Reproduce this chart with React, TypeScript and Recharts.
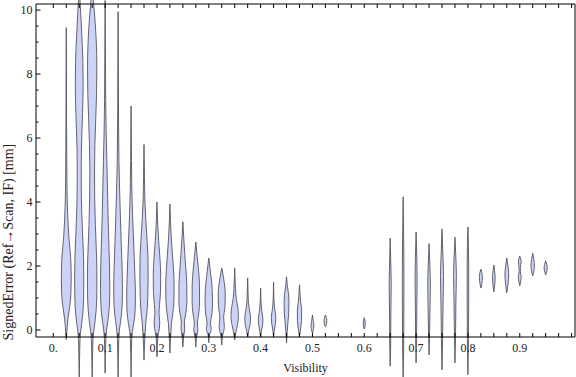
import { ComposedChart, Area, XAxis, YAxis } from 'recharts';

// centres of the violins on the Visibility axis
const VIOLIN_X = [
  0.025, 0.05, 0.075, 0.1, 0.125, 0.15, 0.175, 0.2,
  0.225, 0.25, 0.275, 0.3, 0.325, 0.35, 0.375, 0.4, 0.425, 0.45, 0.475, 0.5, 0.525, 0.6,
  0.65, 0.675, 0.7, 0.725, 0.75, 0.775, 0.8, 0.825, 0.85, 0.875, 0.9, 0.925, 0.95,
];

// density outline of each violin: [signed error in mm, relative half width]
const PROFILES_LOW: [number, number][][] = [
  [[-0.3, 0], [-0.1, 0.6], [0.1, 1.0], [0.35, 1.8], [0.7, 3.5], [1.1, 4.9], [1.6, 5.3], [2.1, 5.0], [2.5, 4.0], [2.9, 2.8], [3.4, 1.8], [4.0, 1.1], [5.0, 0.6], [6.5, 0.35], [9.45, 0]],
  [[-1.47, 0], [-1.0, 0.3], [-0.5, 0.6], [-0.1, 1.3], [0.2, 2.6], [0.5, 3.8], [1.0, 4.7], [1.6, 4.9], [2.3, 4.6], [3.0, 3.6], [3.7, 2.7], [4.5, 2.2], [5.3, 2.2], [6.0, 2.7], [6.8, 3.6], [7.6, 4.2], [8.4, 3.9], [9.2, 2.8], [9.9, 1.6], [10.4, 0.6], [10.8, 0]],
  [[-1.47, 0], [-1.0, 0.3], [-0.5, 0.6], [-0.1, 1.4], [0.2, 2.8], [0.6, 4.2], [1.2, 5.0], [1.9, 5.0], [2.6, 4.3], [3.3, 3.4], [4.1, 2.7], [5.0, 2.5], [5.8, 2.9], [6.6, 3.8], [7.4, 4.7], [8.2, 5.0], [9.0, 4.4], [9.7, 3.0], [10.3, 1.3], [10.8, 0]],
  [[-1.35, 0], [-0.8, 0.3], [-0.3, 0.7], [0.0, 1.5], [0.3, 3.0], [0.7, 4.4], [1.3, 5.0], [2.0, 4.7], [2.7, 4.0], [3.5, 3.2], [4.4, 2.5], [5.3, 1.8], [6.2, 1.1], [7.2, 0.6], [8.5, 0.35], [10.3, 0]],
  [[-1.47, 0], [-0.9, 0.3], [-0.3, 0.7], [0.0, 1.4], [0.3, 2.8], [0.7, 4.2], [1.3, 4.7], [2.0, 4.2], [2.7, 3.4], [3.5, 2.5], [4.4, 1.6], [5.3, 0.9], [6.5, 0.5], [8.0, 0.3], [9.95, 0]],
  [[-1.47, 0], [-0.8, 0.3], [-0.3, 0.7], [-0.05, 1.4], [0.2, 2.8], [0.6, 4.4], [1.1, 4.7], [1.7, 4.1], [2.3, 3.4], [3.0, 2.4], [3.6, 1.6], [4.3, 0.9], [5.3, 0.45], [7.0, 0]],
  [[-0.94, 0], [-0.5, 0.4], [-0.1, 1.2], [0.2, 1.8], [0.5, 3.0], [1.0, 4.0], [1.6, 4.4], [2.2, 4.3], [2.8, 3.3], [3.4, 2.0], [4.0, 1.0], [4.8, 0.5], [5.8, 0]],
  [[-0.84, 0], [-0.5, 0.4], [-0.2, 1.0], [0.05, 2.6], [0.25, 3.0], [0.5, 2.2], [0.8, 2.8], [1.2, 3.8], [1.7, 4.0], [2.2, 3.3], [2.8, 1.8], [3.3, 0.8], [4.0, 0]],
];

const PROFILES_MID: [number, number][][] = [
  [[-0.72, 0], [-0.4, 0.4], [-0.1, 1.0], [0.2, 1.6], [0.5, 3.0], [0.9, 4.3], [1.4, 4.5], [1.9, 3.8], [2.4, 2.6], [2.9, 1.4], [3.4, 0.6], [3.94, 0]],
  [[-0.53, 0], [-0.25, 0.6], [0.05, 2.0], [0.25, 1.6], [0.5, 3.0], [0.9, 4.3], [1.4, 4.2], [1.9, 3.2], [2.4, 2.0], [2.9, 0.9], [3.38, 0]],
  [[-0.53, 0], [-0.25, 0.6], [0.0, 2.2], [0.22, 1.6], [0.5, 3.0], [0.9, 4.0], [1.4, 3.9], [1.9, 2.8], [2.3, 1.4], [2.75, 0]],
  [[-0.4, 0], [-0.15, 0.8], [0.02, 2.6], [0.22, 1.8], [0.5, 3.4], [0.9, 4.0], [1.3, 3.6], [1.7, 2.2], [2.0, 1.0], [2.25, 0]],
  [[-0.47, 0], [-0.2, 0.8], [0.1, 2.8], [0.4, 2.0], [0.7, 3.4], [1.1, 3.8], [1.5, 2.6], [1.75, 1.2], [1.94, 0]],
  [[-0.31, 0], [-0.1, 1.0], [0.2, 3.2], [0.45, 4.0], [0.7, 3.3], [0.95, 1.8], [1.3, 0.8], [1.6, 0.4], [1.94, 0]],
  [[-0.22, 0], [0.0, 1.2], [0.2, 2.8], [0.4, 3.0], [0.65, 1.8], [0.9, 0.7], [1.2, 0.4], [1.63, 0]],
  [[-0.22, 0], [0.0, 1.0], [0.2, 2.3], [0.35, 2.4], [0.6, 1.2], [0.9, 0.4], [1.31, 0]],
  [[-0.22, 0], [0.0, 0.8], [0.2, 2.0], [0.4, 2.4], [0.6, 1.5], [0.9, 0.5], [1.5, 0]],
  [[-0.4, 0], [-0.1, 0.6], [0.2, 1.4], [0.5, 2.3], [0.85, 2.6], [1.15, 2.0], [1.4, 0.8], [1.66, 0]],
  [[-0.22, 0], [0.0, 1.0], [0.3, 2.2], [0.6, 2.3], [0.9, 1.2], [1.15, 0.5], [1.41, 0]],
  [[-0.1, 0], [0.05, 1.3], [0.15, 1.5], [0.3, 0.8], [0.47, 0]],
  [[0.1, 0], [0.2, 1.2], [0.3, 1.5], [0.4, 0.8], [0.47, 0]],
  [[0.03, 0], [0.15, 1.0], [0.25, 1.0], [0.38, 0]],
];

const PROFILES_HIGH: [number, number][][] = [
  [[-1.13, 0], [-0.5, 0.5], [0.5, 0.7], [1.2, 1.0], [1.5, 1.1], [1.9, 0.8], [2.87, 0]],
  [[-1.47, 0], [-0.5, 0.6], [0.8, 0.8], [1.5, 0.9], [2.5, 0.7], [4.16, 0]],
  [[-1.03, 0], [-0.3, 0.5], [0.8, 0.8], [1.6, 1.1], [2.2, 0.8], [3.06, 0]],
  [[-0.78, 0], [0.0, 0.6], [0.8, 1.1], [1.4, 1.4], [2.0, 0.9], [2.7, 0]],
  [[-1.25, 0], [-0.3, 0.6], [0.8, 1.1], [1.7, 1.6], [2.3, 1.0], [3.16, 0]],
  [[-1.03, 0], [-0.2, 0.6], [0.9, 1.0], [1.7, 1.5], [2.3, 0.9], [2.9, 0]],
  [[-1.4, 0], [-0.3, 0.6], [1.0, 0.8], [2.0, 0.8], [3.22, 0]],
  [[1.31, 0], [1.45, 1.0], [1.63, 1.6], [1.8, 1.0], [1.9, 0]],
  [[1.19, 0], [1.4, 0.9], [1.66, 1.4], [1.85, 0.8], [2.03, 0]],
  [[1.16, 0], [1.4, 1.2], [1.75, 2.0], [2.0, 1.2], [2.25, 0]],
  [[1.38, 0], [1.5, 0.9], [1.66, 1.5], [1.82, 0.7], [1.95, 0.7], [2.13, 1.5], [2.31, 0]],
  [[1.69, 0], [1.85, 1.3], [2.03, 1.8], [2.2, 1.2], [2.4, 0]],
  [[1.72, 0], [1.85, 1.3], [1.95, 1.7], [2.05, 1.2], [2.16, 0]],
];

const X_LABELS = [0, 0.1, 0.2, 0.3, 0.4, 0.5, 0.6, 0.7, 0.8, 0.9];
const Y_LABELS = [0, 2, 4, 6, 8, 10];
const X_TICKS = Array.from({ length: 41 }, (_, i) => i / 40); // every 0.025
const Y_TICKS = Array.from({ length: 21 }, (_, i) => i / 2); // every 0.5

const X_DOMAIN: [number, number] = [-0.0334, 1.0066];
const Y_DOMAIN: [number, number] = [-0.22, 10.19];

// x units per unit of relative half width
const HALF_WIDTH = 0.0018;

const FONT = '"Liberation Serif", "Times New Roman", serif';
const FILL = '#cdd3f6';
const EDGE = '#555560';

const PROFILES = [...PROFILES_LOW, ...PROFILES_MID, ...PROFILES_HIGH];
const violins = PROFILES.map((profile, i) =>
  profile.map(([y, w]) => ({ y, range: [VIOLIN_X[i] - w * HALF_WIDTH, VIOLIN_X[i] + w * HALF_WIDTH] }))
);

const near = (list: number[], v: number) => list.some((l) => Math.abs(l - v) < 1e-9);

function BottomTick({ x, y, payload }: any) {
  const v = payload.value;
  return (
    <g>
      <line x1={x} x2={x} y1={y} y2={y - 4} stroke="#000" />
      {near(X_LABELS, v) && (
        <text x={x} y={y + 14.5} textAnchor="middle" fontFamily={FONT} fontSize={12} fill="#222">
          {v === 0 ? '0.' : v.toFixed(1)}
        </text>
      )}
    </g>
  );
}

function TopTick({ x, y }: any) {
  return <line x1={x} x2={x} y1={y} y2={y + 4} stroke="#000" />;
}

function LeftTick({ x, y, payload }: any) {
  const v = payload.value;
  const major = near(Y_LABELS, v);
  return (
    <g>
      <line x1={x} x2={x + (major ? 4.5 : 2.5)} y1={y} y2={y} stroke="#000" />
      {major && (
        <text x={x - 3.5} y={y + 4} textAnchor="end" fontFamily={FONT} fontSize={12} fill="#222">
          {v}
        </text>
      )}
    </g>
  );
}

function RightTick({ x, y, payload }: any) {
  const major = near(Y_LABELS, payload.value);
  return <line x1={x} x2={x - (major ? 4.5 : 2.5)} y1={y} y2={y} stroke="#000" />;
}

function YTitle({ viewBox }: any) {
  const cx = (viewBox?.x ?? 0) + 9;
  const cy = (viewBox?.y ?? 4) + (viewBox?.height ?? 333) * 0.715;
  return (
    <text x={cx} y={cy} transform={`rotate(-90 ${cx} ${cy})`} textAnchor="middle" dominantBaseline="central"
      fontFamily={FONT} fontSize={14} fill="#222">
      SignedError (Ref→Scan, IF) [mm]
    </text>
  );
}

export default function App() {
  return (
    <div style={{ position: 'absolute', left: 0, top: 0, background: '#fff' }}>
      {/* violins are drawn past the frame, as in the original */}
      <style>{'.recharts-area, .recharts-area [clip-path] { clip-path: none !important; }'}</style>
      <ComposedChart layout="vertical" width={576} height={377} margin={{ top: 3, right: 0, bottom: 0, left: 0 }}>
        <XAxis xAxisId="x" type="number" orientation="bottom" domain={X_DOMAIN} allowDataOverflow
          ticks={X_TICKS} interval={0} height={40} tickSize={0} tickMargin={0} tickLine={false}
          tick={<BottomTick />} axisLine={{ stroke: '#000' }}
          label={{ value: 'Visibility', position: 'insideBottom', offset: 5, fontFamily: FONT, fontSize: 12, fill: '#222' }} />
        <XAxis xAxisId="xt" type="number" orientation="top" domain={X_DOMAIN} allowDataOverflow
          ticks={X_TICKS} interval={0} height={1} tickSize={0} tickMargin={0} tickLine={false}
          tick={<TopTick />} axisLine={{ stroke: '#000' }} />
        <YAxis yAxisId="y" type="number" dataKey="y" domain={Y_DOMAIN} allowDataOverflow reversed
          ticks={Y_TICKS} interval={0} width={36} tickSize={0} tickMargin={0} tickLine={false}
          tick={<LeftTick />} axisLine={{ stroke: '#000' }} label={(props: any) => <YTitle {...props} />} />
        <YAxis yAxisId="yr" type="number" orientation="right" domain={Y_DOMAIN} allowDataOverflow reversed
          ticks={Y_TICKS} interval={0} width={1} tickSize={0} tickMargin={0} tickLine={false}
          tick={<RightTick />} axisLine={{ stroke: '#000' }} />
        {violins.map((data, i) => (
          <Area key={VIOLIN_X[i]} xAxisId="x" yAxisId="y" data={data} dataKey="range" type="monotone"
            fill={FILL} fillOpacity={1} stroke={EDGE} strokeWidth={0.9} dot={false} activeDot={false}
            isAnimationActive={false} />
        ))}
      </ComposedChart>
    </div>
  );
}
